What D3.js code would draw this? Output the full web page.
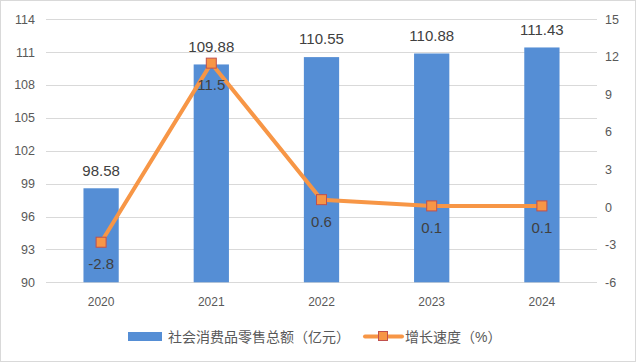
<!DOCTYPE html>
<html>
<head>
<meta charset="utf-8">
<script src="https://cdn.jsdelivr.net/npm/d3@7"></script>
<style>
  body { margin: 0; background: #fff; }
  svg text { font-family: "Liberation Sans", "Noto Sans CJK SC", sans-serif; }
</style>
</head>
<body>
<svg id="chart" width="636" height="362"></svg>
<script>
// data
const years = ["2020", "2021", "2022", "2023", "2024"];
const retailTotal = [98.58, 109.88, 110.55, 110.88, 111.43];
const growthRate = [-2.8, 11.5, 0.6, 0.1, 0.1];
const leftTicks = [90, 93, 96, 99, 102, 105, 108, 111, 114];
const rightTicks = [-6, -3, 0, 3, 6, 9, 12, 15];
const legendNames = ["社会消费品零售总额（亿元）", "增长速度（%）"];

const barColor = "#558ED5";
const lineColor = "#F79646";
const textColor = "#595959";

const svg = d3.select("#chart");

// outer border
svg.append("rect")
  .attr("x", 0.5).attr("y", 0.5)
  .attr("width", 635).attr("height", 361)
  .attr("fill", "#fff")
  .attr("stroke", "#d9d9d9");

const plotLeft = 46, plotRight = 597, plotTop = 19.3, plotBottom = 282.3;

const x = d3.scaleBand().domain(years).range([plotLeft, plotRight]).paddingInner(0.68).paddingOuter(0.34);
const yL = d3.scaleLinear().domain([90, 114]).range([plotBottom, plotTop]);
const yR = d3.scaleLinear().domain([-6, 15]).range([plotBottom, plotTop]);

// gridlines
svg.append("g")
  .selectAll("line")
  .data(leftTicks)
  .join("line")
  .attr("x1", plotLeft).attr("x2", plotRight)
  .attr("y1", d => Math.round(yL(d)) + 0.5)
  .attr("y2", d => Math.round(yL(d)) + 0.5)
  .attr("stroke", "#d9d9d9");

// left axis labels
svg.append("g")
  .selectAll("text")
  .data(leftTicks)
  .join("text")
  .attr("x", 35)
  .attr("y", d => yL(d))
  .attr("dy", "0.35em")
  .attr("text-anchor", "end")
  .attr("font-size", 12.5)
  .attr("fill", textColor)
  .text(d => d);

// right axis labels
svg.append("g")
  .selectAll("text")
  .data(rightTicks)
  .join("text")
  .attr("x", 605)
  .attr("y", d => yR(d))
  .attr("dy", "0.35em")
  .attr("font-size", 12.5)
  .attr("fill", textColor)
  .text(d => d);

// x labels
svg.append("g")
  .selectAll("text")
  .data(years)
  .join("text")
  .attr("x", d => x(d) + x.bandwidth() / 2)
  .attr("y", 302)
  .attr("dy", "0.35em")
  .attr("text-anchor", "middle")
  .attr("font-size", 12)
  .attr("fill", textColor)
  .text(d => d);

// bars
svg.append("g")
  .selectAll("rect")
  .data(retailTotal)
  .join("rect")
  .attr("x", (d, i) => x(years[i]))
  .attr("width", x.bandwidth())
  .attr("y", d => yL(d))
  .attr("height", d => plotBottom - yL(d))
  .attr("fill", barColor);

// bar labels
svg.append("g")
  .selectAll("text")
  .data(retailTotal)
  .join("text")
  .attr("x", (d, i) => x(years[i]) + x.bandwidth() / 2)
  .attr("y", d => yL(d) - 18)
  .attr("dy", "0.35em")
  .attr("text-anchor", "middle")
  .attr("font-size", 15)
  .attr("fill", "#404040")
  .text(d => d.toFixed(2));

// line
const line = d3.line()
  .x((d, i) => x(years[i]) + x.bandwidth() / 2)
  .y(d => yR(d));

svg.append("path")
  .datum(growthRate)
  .attr("d", line)
  .attr("fill", "none")
  .attr("stroke", lineColor)
  .attr("stroke-width", 4)
  .attr("stroke-linejoin", "round");

svg.append("g")
  .selectAll("rect")
  .data(growthRate)
  .join("rect")
  .attr("x", (d, i) => x(years[i]) + x.bandwidth() / 2 - 5)
  .attr("y", d => yR(d) - 5)
  .attr("width", 10).attr("height", 10)
  .attr("fill", lineColor)
  .attr("stroke", "#C0504D")
  .attr("stroke-width", 1);

// line labels
svg.append("g")
  .selectAll("text")
  .data(growthRate)
  .join("text")
  .attr("x", (d, i) => x(years[i]) + x.bandwidth() / 2)
  .attr("y", d => yR(d) + 22)
  .attr("dy", "0.35em")
  .attr("text-anchor", "middle")
  .attr("font-size", 15)
  .attr("fill", "#404040")
  .text(d => d);

// legend
const lg = svg.append("g");
lg.append("rect")
  .attr("x", 128).attr("y", 332)
  .attr("width", 34).attr("height", 9)
  .attr("fill", barColor);
lg.append("text")
  .attr("x", 168).attr("y", 337)
  .attr("dy", "0.35em")
  .attr("font-size", 14)
  .attr("fill", textColor)
  .text(legendNames[0]);
lg.append("line")
  .attr("x1", 365).attr("x2", 402)
  .attr("y1", 336.5).attr("y2", 336.5)
  .attr("stroke", lineColor)
  .attr("stroke-width", 4)
  .attr("stroke-linecap", "round");
lg.append("rect")
  .attr("x", 378.5).attr("y", 331.5)
  .attr("width", 9).attr("height", 9)
  .attr("fill", lineColor)
  .attr("stroke", "#C0504D");
lg.append("text")
  .attr("x", 405).attr("y", 337)
  .attr("dy", "0.35em")
  .attr("font-size", 14)
  .attr("fill", textColor)
  .text(legendNames[1]);
</script>
</body>
</html>
